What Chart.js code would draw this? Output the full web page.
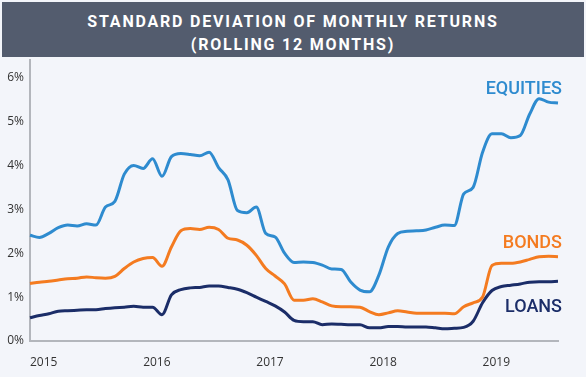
<!DOCTYPE html>
<html>
<head>
<meta charset="utf-8">
<script src="https://cdn.jsdelivr.net/npm/chart.js@4.4.1/dist/chart.umd.min.js"></script>
<style>
  html, body { margin: 0; padding: 0; background: #f3f5fa; }
  #wrap { position: relative; width: 586px; height: 377px; overflow: hidden; background: #f3f5fa; }
  #banner {
    position: absolute; left: 2px; top: 2px; width: 582px; height: 55px;
    background: #535c6e; color: #fff; text-align: center;
    font-family: Roboto, 'DejaVu Sans', sans-serif; font-weight: 700; font-size: 16px;
    letter-spacing: 1.8px;
  }
  #banner .l1 { position: absolute; left: 0; right: 0; top: 10px; }
  #banner .l2 { position: absolute; left: 0; right: 0; top: 33px; }
  #stdChart { position: absolute; left: 0; top: 0; }
</style>
</head>
<body>
<div id="wrap">
  <canvas id="stdChart" width="586" height="377"></canvas>
  <div id="banner">
    <div class="l1">STANDARD DEVIATION OF MONTHLY RETURNS</div>
    <div class="l2">(ROLLING 12 MONTHS)</div>
  </div>
</div>
<script>
// monthly points, Jan 2015 -> Sep 2019
const years = ['2015', '2016', '2017', '2018', '2019'];
const monthNames = ['Jan', 'Feb', 'Mar', 'Apr', 'May', 'Jun', 'Jul', 'Aug', 'Sep', 'Oct', 'Nov', 'Dec'];
const yTicks = ['0%', '1%', '2%', '3%', '4%', '5%', '6%'];

const equities = [
    2.41, 2.36, 2.45, 2.58, 2.64, 2.62, 2.67, 2.64, 3.05, 3.18, 3.80, 4.00,
    3.93, 4.15, 3.75, 4.20, 4.27, 4.25, 4.22, 4.30, 3.95, 3.67, 2.97, 2.92,
    3.05, 2.45, 2.37, 2.00, 1.79, 1.80, 1.79, 1.73, 1.64, 1.63, 1.35, 1.16,
    1.12, 1.50, 2.14, 2.45, 2.50, 2.51, 2.53, 2.59, 2.64, 2.63, 3.35, 3.50,
    4.30, 4.72, 4.72, 4.63, 4.68, 5.17, 5.52, 5.44, 5.42
];
const bonds = [
    1.31, 1.34, 1.36, 1.39, 1.42, 1.43, 1.46, 1.44, 1.43, 1.47, 1.65, 1.80,
    1.88, 1.90, 1.70, 2.14, 2.51, 2.56, 2.54, 2.59, 2.54, 2.34, 2.30, 2.18,
    1.95, 1.65, 1.48, 1.30, 0.93, 0.93, 0.96, 0.89, 0.80, 0.78, 0.78, 0.77,
    0.67, 0.60, 0.64, 0.69, 0.66, 0.63, 0.63, 0.63, 0.63, 0.62, 0.78, 0.87,
    1.00, 1.72, 1.77, 1.77, 1.80, 1.86, 1.92, 1.93, 1.92
];
const loans = [
    0.53, 0.58, 0.62, 0.68, 0.69, 0.70, 0.71, 0.71, 0.74, 0.76, 0.77, 0.79,
    0.77, 0.77, 0.60, 1.05, 1.17, 1.21, 1.22, 1.25, 1.25, 1.22, 1.18, 1.10,
    1.00, 0.90, 0.80, 0.66, 0.47, 0.44, 0.44, 0.37, 0.39, 0.38, 0.37, 0.37,
    0.30, 0.30, 0.33, 0.33, 0.32, 0.32, 0.32, 0.30, 0.28, 0.29, 0.31, 0.45,
    0.87, 1.15, 1.24, 1.27, 1.30, 1.34, 1.35, 1.35, 1.36
];

const labels = [];
years.forEach(y => monthNames.forEach(m => labels.push(m + ' ' + y)));
labels.length = equities.length;

// series name drawn next to the end of each line
const endLabels = {
    id: 'endLabels',
    afterDatasetsDraw(chart) {
        const ctx = chart.ctx;
        const offsets = [-9, -9, 31];
        ctx.save();
        ctx.font = '500 18px Roboto, sans-serif';
        ctx.textAlign = 'right';
        ctx.textBaseline = 'alphabetic';
        chart.data.datasets.forEach((ds, i) => {
            const pts = chart.getDatasetMeta(i).data;
            const p = pts[pts.length - 1];
            ctx.fillStyle = ds.borderColor;
            ctx.fillText(ds.label, p.x + 4, p.y + offsets[i]);
        });
        ctx.restore();
    }
};

const stdChart = new Chart(document.querySelector('#stdChart'), {
    type: 'line',
    data: {
        labels: labels,
        datasets: [
            { label: 'EQUITIES', data: equities, borderColor: '#2e8bcf' },
            { label: 'BONDS', data: bonds, borderColor: '#f47b20' },
            { label: 'LOANS', data: loans, borderColor: '#1b2d68' },
        ],
    },
    options: {
        responsive: false,
        devicePixelRatio: 1,
        animation: false,
        layout: { padding: { top: 60, left: 0, right: 28, bottom: 0 } },
        elements: {
            line: { borderWidth: 3, cubicInterpolationMode: 'monotone' },
            point: { radius: 0 },
        },
        scales: {
            x: {
                grid: { display: false, drawTicks: false },
                border: { display: true, color: '#b3b6bc', width: 2 },
                ticks: {
                    autoSkip: false,
                    maxRotation: 0,
                    align: 'start',
                    padding: 14,
                    color: '#333',
                    font: { family: "'Open Sans', sans-serif", size: 12 },
                    callback: function (v, i) {
                        return i % 12 === 0 ? years[i / 12] : '';
                    },
                },
                afterFit: s => { s.height = 36; },
            },
            y: {
                min: 0,
                max: 6.4,
                grid: { display: false, drawTicks: false },
                border: { display: true, color: '#b3b6bc', width: 2 },
                ticks: {
                    stepSize: 1,
                    includeBounds: false,
                    padding: 6,
                    color: '#333',
                    font: { family: "'Open Sans', sans-serif", size: 12 },
                    callback: v => yTicks[v],
                },
                afterFit: s => { s.width = 30; },
            },
        },
        plugins: {
            legend: { display: false },
            tooltip: { enabled: false },
        },
    },
    plugins: [endLabels],
});
</script>
</body>
</html>
